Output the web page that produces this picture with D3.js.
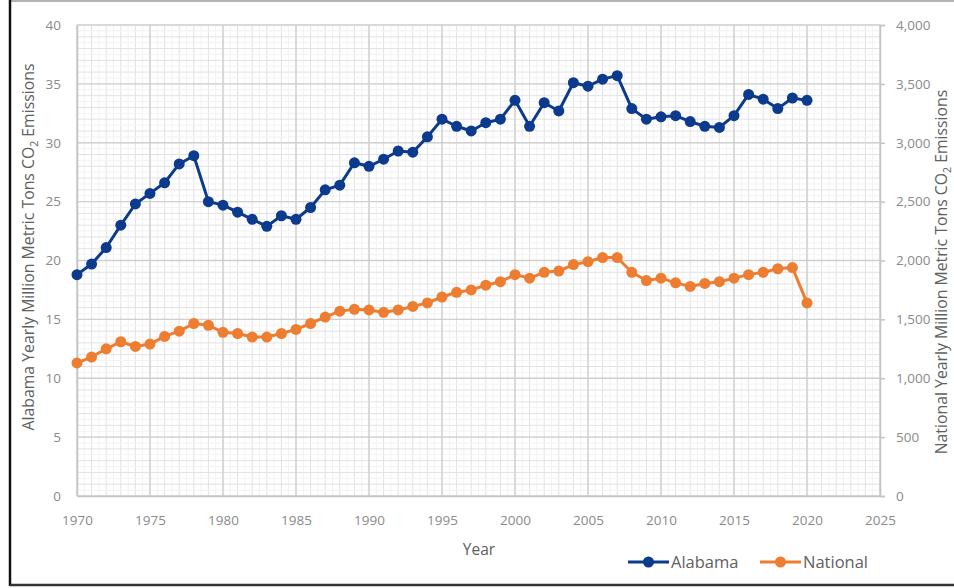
<!DOCTYPE html>
<html>
<head>
<meta charset="utf-8">
<script src="https://cdn.jsdelivr.net/npm/d3@7"></script>
<style>
  html, body { margin: 0; padding: 0; background: #fff; }
  svg { display: block; }
  text { font-family: "Open Sans", "Noto Sans", sans-serif; }
</style>
</head>
<body>
<svg id="chart" width="954" height="588"></svg>
<script>
const years = d3.range(1970, 2021);
const alabama = [18.8, 19.7, 21.1, 23.0, 24.8, 25.7, 26.6, 28.2, 28.9, 25.0,
  24.7, 24.1, 23.5, 22.9, 23.8, 23.5, 24.5, 26.0, 26.4, 28.3,
  28.0, 28.6, 29.3, 29.2, 30.5, 32.0, 31.4, 31.0, 31.7, 32.0,
  33.6, 31.4, 33.4, 32.7, 35.1, 34.8, 35.4, 35.7, 32.9, 32.0,
  32.2, 32.3, 31.8, 31.4, 31.3, 32.3, 34.1, 33.7, 32.9, 33.8, 33.6];
const national = [1130, 1180, 1250, 1310, 1270, 1290, 1355, 1400, 1465, 1450,
  1390, 1380, 1350, 1350, 1380, 1415, 1465, 1520, 1570, 1585,
  1580, 1560, 1580, 1610, 1640, 1690, 1730, 1750, 1790, 1820,
  1880, 1850, 1900, 1910, 1965, 1990, 2025, 2025, 1900, 1830,
  1850, 1810, 1780, 1805, 1820, 1850, 1880, 1900, 1930, 1940, 1640];
const xTicks = [1970, 1975, 1980, 1985, 1990, 1995, 2000, 2005, 2010, 2015, 2020, 2025];
const leftTicks = [0, 5, 10, 15, 20, 25, 30, 35, 40];
const rightTicks = [0, 500, 1000, 1500, 2000, 2500, 3000, 3500, 4000];
const seriesNames = ["Alabama", "National"];
const colors = ["#0c3a8c", "#ed7d31"];

const svg = d3.select("#chart");
const L = 77, R = 880, T = 25, B = 496;

const x = d3.scaleLinear().domain([1970, 2025]).range([L, R]);
const yL = d3.scaleLinear().domain([0, 40]).range([B, T]);
const yR = d3.scaleLinear().domain([0, 4000]).range([B, T]);

// frame
svg.append("rect").attr("width", 954).attr("height", 588).attr("fill", "#fff");
svg.append("line").attr("x1", 10).attr("x2", 954).attr("y1", 1).attr("y2", 1)
  .attr("stroke", "#9a9a9a").attr("stroke-width", 1.5);
svg.append("line").attr("x1", 10).attr("x2", 10).attr("y1", 0).attr("y2", 586)
  .attr("stroke", "#111").attr("stroke-width", 2.5);
svg.append("line").attr("x1", 10).attr("x2", 954).attr("y1", 585).attr("y2", 585)
  .attr("stroke", "#333").attr("stroke-width", 2.5);

// minor grid
const g = svg.append("g");
g.selectAll(".mvx").data(d3.range(1970, 2025.01, 0.5)).join("line")
  .attr("x1", d => x(d)).attr("x2", d => x(d)).attr("y1", T).attr("y2", B)
  .attr("stroke", d => Number.isInteger(d) ? "#e2e2e2" : "#f2f2f2").attr("stroke-width", 1);
g.selectAll(".mhy").data(d3.range(0, 40.01, 0.5)).join("line")
  .attr("y1", d => yL(d)).attr("y2", d => yL(d)).attr("x1", L).attr("x2", R)
  .attr("stroke", d => Number.isInteger(d) ? "#e2e2e2" : "#f2f2f2").attr("stroke-width", 1);
// major grid
g.selectAll(".Mvx").data(xTicks).join("line")
  .attr("x1", d => x(d)).attr("x2", d => x(d)).attr("y1", T).attr("y2", B)
  .attr("stroke", "#d0d0d0").attr("stroke-width", 1.4);
g.selectAll(".Mhy").data(leftTicks).join("line")
  .attr("y1", d => yL(d)).attr("y2", d => yL(d)).attr("x1", L).attr("x2", R)
  .attr("stroke", "#d0d0d0").attr("stroke-width", 1.4);

// axes
const axL = d3.axisLeft(yL).tickValues(leftTicks).tickSize(0).tickPadding(16);
const axR = d3.axisRight(yR).tickValues(rightTicks).tickSize(5).tickPadding(11)
  .tickFormat(d3.format(","));
const axB = d3.axisBottom(x).tickValues(xTicks).tickSize(0).tickPadding(19)
  .tickFormat(d3.format("d"));

function styleAxis(sel) {
  sel.selectAll("path").attr("stroke", "#c4c4c4").attr("stroke-width", 1.5);
  sel.selectAll("line").attr("stroke", "#c4c4c4").attr("stroke-width", 1.5);
  sel.selectAll("text").attr("fill", "#8a8a8a").style("font-size", "13.5px")
    .style("font-family", "'Open Sans', sans-serif");
}
svg.append("g").attr("transform", `translate(${L},0)`).call(axL).call(styleAxis);
svg.append("g").attr("transform", `translate(${R},0)`).call(axR).call(styleAxis);
svg.append("g").attr("transform", `translate(0,${B})`).call(axB).call(styleAxis);

// lines
const lineL = d3.line().x((d, i) => x(years[i])).y(d => yL(d));
const lineR = d3.line().x((d, i) => x(years[i])).y(d => yR(d));

svg.append("path").datum(national).attr("d", lineR).attr("fill", "none")
  .attr("stroke", colors[1]).attr("stroke-width", 3).attr("stroke-linejoin", "round");
svg.append("g").selectAll("circle").data(national).join("circle")
  .attr("cx", (d, i) => x(years[i])).attr("cy", d => yR(d)).attr("r", 5.5)
  .attr("fill", colors[1]);

svg.append("path").datum(alabama).attr("d", lineL).attr("fill", "none")
  .attr("stroke", colors[0]).attr("stroke-width", 3).attr("stroke-linejoin", "round");
svg.append("g").selectAll("circle").data(alabama).join("circle")
  .attr("cx", (d, i) => x(years[i])).attr("cy", d => yL(d)).attr("r", 5.5)
  .attr("fill", colors[0]);

// axis titles
function co2Title(sel, prefix) {
  sel.append("tspan").text(prefix + " CO");
  sel.append("tspan").text("2").attr("dy", 3.5).style("font-size", "10.5px");
  sel.append("tspan").text(" Emissions").attr("dy", -3.5);
}
const tl = svg.append("text").attr("transform", "translate(34,247) rotate(-90)")
  .attr("text-anchor", "middle").attr("fill", "#606060").style("font-size", "15.8px");
co2Title(tl, "Alabama Yearly Million Metric Tons");
const tr = svg.append("text").attr("transform", "translate(947,272) rotate(-90)")
  .attr("text-anchor", "middle").attr("fill", "#606060").style("font-size", "15.8px");
co2Title(tr, "National Yearly Million Metric Tons");

svg.append("text").attr("x", 479).attr("y", 555).attr("text-anchor", "middle")
  .attr("fill", "#606060").style("font-size", "15.5px").text("Year");

// legend
const legX = [628, 760];
seriesNames.forEach((name, i) => {
  const lg = svg.append("g").attr("transform", `translate(${legX[i]},562)`);
  lg.append("line").attr("x1", 0).attr("x2", 41).attr("y1", 0).attr("y2", 0)
    .attr("stroke", colors[i]).attr("stroke-width", 3);
  lg.append("circle").attr("cx", 20.5).attr("cy", 0).attr("r", 5.5).attr("fill", colors[i]);
  lg.append("text").attr("x", 43).attr("y", 6).attr("fill", "#606060")
    .style("font-size", "16.5px").text(name);
});
</script>
</body>
</html>
